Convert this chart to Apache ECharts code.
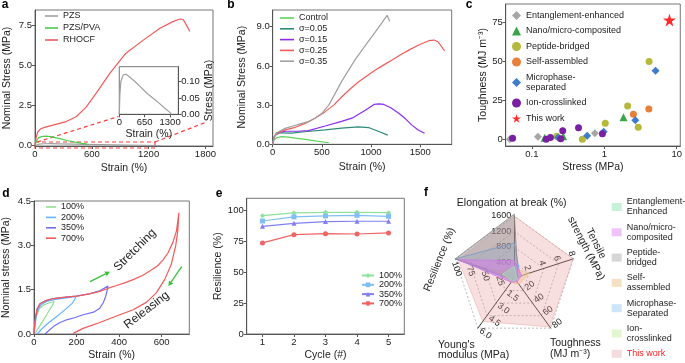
<!DOCTYPE html>
<html>
<head>
<meta charset="utf-8">
<script src="https://cdn.jsdelivr.net/npm/echarts@6/dist/echarts.min.js"></script>
<style>
html, body { margin: 0; padding: 0; background: #fff; }
#main { width: 685px; height: 363px; }
</style>
</head>
<body>
<div id="main"></div>
<script>
// multi-panel figure a-f
const FONT = "'Liberation Sans', Arial, sans-serif";
const AX = '#555';

// ---- a: tensile curves + inset
const aTicksX = [0, 600, 1200, 1800];
const aTicksY = [0, 2.5, 5, 7.5];
const aInsetTicksX = [0, 650, 1300];
const aInsetTicksY = [0, 0.05, 0.1];
const aPzs = [[0,0],[15,0.06],[40,0.1],[100,0.12],[170,0.122],[250,0.115],[400,0.1],[530,0.085],[700,0.065],[960,0.04],[1150,0.02],[1300,0.005],[1330,0]];
const aPva = [[0,0],[15,0.3],[40,0.5],[80,0.58],[120,0.6],[180,0.55],[260,0.44],[340,0.32],[420,0.22],[500,0.14],[550,0.1]];
const aRhocf = [[0,0],[10,0.45],[28,0.85],[60,1.05],[110,1.15],[190,1.28],[330,1.5],[435,1.8],[540,2.4],[645,3.25],[790,4.5],[960,5.75],[1140,6.55],[1320,7.3],[1450,7.7],[1530,7.88],[1565,7.85],[1600,7.5],[1635,7.1]];

// ---- b: different sigma
const bTicksX = [0, 500, 1000, 1500];
const bTicksY = [0, 3, 6, 9];
const bControl = [[0,0],[15,0.35],[40,0.5],[90,0.59],[160,0.55],[250,0.46],[330,0.38],[450,0.24],[570,0.12]];
const bS005 = [[0,0],[10,0.45],[24,0.7],[75,0.88],[190,0.85],[350,0.98],[534,1.1],[700,1.24],[870,1.33],[980,1.27],[1080,0.98],[1170,0.7]];
const bS015 = [[0,0],[10,0.5],[41,0.88],[126,1.0],[250,1.0],[364,1.05],[534,1.4],[700,1.75],[806,2.0],[942,2.6],[1030,3.05],[1080,3.1],[1130,3.05],[1200,2.8],[1282,2.37],[1350,1.95],[1418,1.45],[1480,1.1],[1544,0.84]];
const bS025 = [[0,0],[12,0.5],[41,0.84],[126,1.1],[230,1.3],[330,1.6],[430,2.0],[534,2.5],[620,3.0],[704,3.64],[790,4.25],[874,4.79],[960,5.25],[1044,5.68],[1130,6.08],[1214,6.45],[1300,6.85],[1384,7.21],[1490,7.62],[1588,7.93],[1640,7.98],[1680,7.85],[1715,7.5],[1748,7.14]];
const bS035 = [[0,0],[12,0.55],[41,0.89],[126,1.22],[250,1.5],[364,1.73],[430,2.0],[500,2.37],[570,3.0],[636,3.9],[700,4.8],[772,5.68],[840,6.5],[908,7.21],[980,7.95],[1044,8.6],[1110,9.3],[1163,9.87],[1180,9.94],[1190,9.4]];

// ---- c: Ashby-like scatter (stress MPa, toughness MJ m-3)
const cTicksX = [0.1, 1, 10];
const cTicksY = [0, 25, 50, 75];
const cEntangle = [[0.0495,0],[0.121,1.7],[0.74,3.8]];
const cNano = [[0.15,1.0],[0.27,2.0],[1.84,14.1]];
const cPeptide = [[0.22,2.0],[0.497,0],[1.03,10.3],[2.1,21.3],[2.94,7.7],[4.15,49.8]];
const cSelf = [[2.52,16.0],[4.12,19.4]];
const cMicro = [[0.23,1.1],[0.58,2.2],[0.98,4.8],[2.68,12.2],[5.1,44]];
const cIon = [[0.054,0.6],[0.157,0],[0.18,1.2],[0.25,0.4],[0.266,5.5],[0.44,7.4],[0.94,3.5]];
const cThis = [[7.94,76.5]];

// ---- d: cyclic loading
const dTicksX = [0, 200, 400, 600];
const dTicksY = [0, 1.5, 3, 4.5];
const d100 = [[0,0],[5,0.35],[12,0.62],[25,0.85],[45,0.98],[70,1.05],[95,1.1],[85,0.95],[70,0.78],[55,0.6],[40,0.42],[25,0.25],[12,0.1],[4,0]];
const d200 = [[0,0],[4,0.3],[10,0.6],[20,0.85],[35,1.0],[60,1.1],[100,1.17],[150,1.22],[197,1.27],[190,1.15],[177,1.02],[150,0.85],[122,0.68],[90,0.5],[59,0.32],[35,0.16],[15,0]];
const d350 = [[0,0],[3,0.3],[8,0.6],[15,0.85],[28,1.02],[52,1.12],[91,1.2],[150,1.25],[200,1.28],[260,1.36],[309,1.46],[348,1.62],[342,1.42],[337,1.27],[325,1.05],[309,0.875],[280,0.74],[231,0.65],[190,0.55],[153,0.48],[120,0.38],[91,0.25],[70,0.12],[52,0]];
const d700 = [[0,0],[3,0.3],[8,0.6],[15,0.85],[28,1.02],[52,1.12],[91,1.2],[150,1.25],[200,1.28],[260,1.36],[309,1.44],[350,1.55],[388,1.64],[430,1.74],[466,1.84],[510,1.98],[544,2.13],[580,2.3],[606,2.5],[630,2.75],[653,3.1],[670,3.5],[681,4.1],[676,3.5],[666,2.98],[645,2.35],[614,1.84],[575,1.39],[528,1.07],[466,0.82],[388,0.61],[309,0.39],[231,0.19],[184,0.02]];

// ---- e: resilience
const eCycles = [1, 2, 3, 4, 5];
const eTicksY = [0, 25, 50, 75, 100];
const e100 = [95.4, 97.6, 98.1, 98.1, 97.8];
const e200 = [91.1, 94.4, 95.2, 95.7, 94.9];
const e350 = [86.8, 89.2, 90.6, 90.9, 90.9];
const e700 = [73.4, 80.1, 80.9, 80.6, 81.5];

// ---- f: radar (elongation, resilience, young's, toughness, tensile)
const fMax = [1600, 100, 6, 80, 8];
const fEntangle = [300, 20, 0.3, 3, 0.3];
const fNano = [450, 95, 0.5, 6, 1.0];
const fPeptide = [1650, 100, 0.2, 2, 0.5];
const fSelf = [250, 30, 0.5, 10, 2];
const fMicro = [900, 100, 0.3, 3, 0.8];
const fIon = [150, 45, 0.4, 4, 0.5];
const fThis = [1600, 95, 5.2, 78, 8];

const pairs = (xs, ys) => xs.map((x, i) => [x, ys[i]]);
const strip = n => n.replace(/^[a-z]\|/, '');

function axisOf(gridIndex, min, max, ticks, fmt, name, nameGap, extra) {
	return Object.assign({
		type: 'value', gridIndex: gridIndex, min: min, max: max,
		name: name, nameLocation: 'middle', nameGap: nameGap,
		nameTextStyle: { fontSize: 10.5, fontFamily: FONT, color: '#222' },
		axisLine: { show: true, onZero: false, lineStyle: { color: AX, width: 1 } },
		axisTick: { show: true, customValues: ticks, length: 3, lineStyle: { color: AX } },
		axisLabel: { customValues: ticks, formatter: fmt, fontSize: 9.5, fontFamily: FONT, color: '#222', margin: 3 },
		splitLine: { show: false }
	}, extra || {});
}
const f1 = v => Number(v).toFixed(1);
const f2 = v => Number(v).toFixed(2);
const f0 = v => String(v);

function lineS(name, data, color, xi, width) {
	return { name: name, type: 'line', xAxisIndex: xi, yAxisIndex: xi, data: data, showSymbol: false, symbol: 'none',
		lineStyle: { color: color, width: width || 1.2 }, itemStyle: { color: color }, animation: false, silent: true };
}
function dotS(name, data, color, symbol, size) {
	return { name: name, type: 'scatter', xAxisIndex: 3, yAxisIndex: 3, data: data, symbol: symbol, symbolSize: size,
		itemStyle: { color: color, opacity: 1 }, animation: false };
}
function markS(name, ys, color, symbol) {
	return { name: name, type: 'line', xAxisIndex: 5, yAxisIndex: 5, data: pairs(eCycles, ys), symbol: symbol, symbolSize: 5,
		showSymbol: true, lineStyle: { color: color, width: 1.2 }, itemStyle: { color: color }, animation: false };
}
function arrow(x1, y1, x2, y2, color) {
	const a = Math.atan2(y2 - y1, x2 - x1), h = 5, w = 2.6;
	const bx = x2 - h * Math.cos(a), by = y2 - h * Math.sin(a);
	return [
		{ type: 'line', shape: { x1: x1, y1: y1, x2: bx, y2: by }, style: { stroke: color, lineWidth: 1.3 } },
		{ type: 'polygon', shape: { points: [[x2, y2], [bx - w * Math.sin(a), by + w * Math.cos(a)], [bx + w * Math.sin(a), by - w * Math.cos(a)]] }, style: { fill: color } }
	];
}
function txt(x, y, text, size, rot, extra) {
	return { type: 'text', x: x, y: y, rotation: rot || 0,
		style: Object.assign({ text: text, font: size + 'px ' + FONT, fill: '#222', align: 'center', verticalAlign: 'middle' }, extra || {}) };
}
const STAR = 'path://M50,0 L61,35 L98,35 L68,57 L79,91 L50,70 L21,91 L32,57 L2,35 L39,35 Z';
const legText = { fontSize: 9, fontFamily: FONT, color: '#222' };

const getOption = () => {
	const grids = [
		{ left: 35, top: 10, width: 178, height: 136 },
		{ left: 119.3, top: 66.7, width: 59, height: 47.6 },
		{ left: 272.7, top: 10, width: 179, height: 134.3 },
		{ left: 505.7, top: 4, width: 177, height: 142 },
		{ left: 33.3, top: 201, width: 156, height: 133 },
		{ left: 246.7, top: 198.3, width: 157.6, height: 135.7 }
	].map(g => Object.assign({ show: true, borderColor: '#777', borderWidth: 1, backgroundColor: 'transparent' }, g));

	const xAxis = [
		axisOf(0, 0, 1880, aTicksX, f0, 'Strain (%)', 17),
		axisOf(1, 0, 1510, aInsetTicksX, f0, 'Strain (%)', 10),
		axisOf(2, 0, 1820, bTicksX, f0, 'Strain (%)', 17),
		axisOf(3, 0.0434, 11.2, cTicksX, f0, 'Stress (MPa)', 15.5, { type: 'log', logBase: 10 }),
		axisOf(4, 0, 730, dTicksX, f0, 'Strain (%)', 16),
		axisOf(5, 0.5, 5.5, eCycles, f0, 'Cycle (#)', 16)
	];
	const yAxis = [
		axisOf(0, -0.02, 8.44, aTicksY, f1, 'Nominal Stress (MPa)', 22),
		axisOf(1, 0, 0.145, aInsetTicksY, f2, 'Stress (MPa)', 22, { position: 'right' }),
		axisOf(2, 0, 10.28, bTicksY, f1, 'Nominal Stress (MPa)', 25),
		axisOf(3, -4.3, 86.7, cTicksY, f0, 'Toughness (MJ m\u207B\u00B3)', 17),
		axisOf(4, 0, 4.5, dTicksY, f1, 'Nominal stress (MPa)', 22),
		axisOf(5, 0, 109.4, eTicksY, f0, 'Resilience (%)', 21)
	];

	const rColors = [
		['f|Entanglement-\nEnhanced', fEntangle, 'rgba(150,230,180,0.45)', '#c8f2d8', 'rgba(150,230,180,0.8)'],
		['f|Nano/micro-\ncomposited', fNano, 'rgba(215,120,235,0.5)', '#f0c4fa', 'rgba(200,120,230,0.8)'],
		['f|Peptide-\nbridged', fPeptide, 'rgba(140,140,140,0.45)', '#d6d6d6', 'rgba(140,140,140,0.8)'],
		['f|Self-\nassembled', fSelf, 'rgba(240,200,150,0.5)', '#f6e0c4', 'rgba(230,190,140,0.8)'],
		['f|Microphase-\nSeparated', fMicro, 'rgba(150,190,240,0.35)', '#cde4f9', '#7aa8ee'],
		['f|Ion-\ncrosslinked', fIon, 'rgba(190,240,150,0.6)', '#e2f7d0', 'rgba(170,225,130,0.9)'],
		['f|This work', fThis, 'rgba(232,150,150,0.3)', '#f3dcdc', 'rgba(232,150,150,0.4)']
	];
	const radarSeries = {
		type: 'radar', animation: false, symbol: 'none', silent: true,
		data: rColors.slice().reverse().map(r => ({
			name: r[0], value: r[1],
			areaStyle: { color: r[2], opacity: 1 },
			lineStyle: { color: r[4], width: 1 },
			itemStyle: { color: r[3] }
		}))
	};
	const lab = (rot, fmt) => ({ show: true, rotate: rot, fontSize: 9, fontFamily: FONT, color: '#222', margin: 3, showMinLabel: false, formatter: fmt });
	const radar = {
		center: [514.3, 278], radius: 62, startAngle: 90, shape: 'polygon', splitNumber: 4,
		axisName: { show: false },
		axisLine: { lineStyle: { color: '#333', width: 1 } },
		axisTick: { show: false },
		splitLine: { lineStyle: { color: '#aaa', type: [2, 2], width: 0.8 } },
		splitArea: { show: false },
		indicator: [
			{ name: 'Elongation', min: 0, max: fMax[0], axisLabel: lab(0, f0) },
			{ name: 'Resilience', min: 0, max: fMax[1], axisLabel: lab(-72, f0) },
			{ name: 'Young', min: 0, max: fMax[2], axisLabel: lab(-36, f1) },
			{ name: 'Toughness', min: 0, max: fMax[3], axisLabel: lab(36, f0) },
			{ name: 'Tensile', min: 0, max: fMax[4], axisLabel: lab(-72, f0) }
		]
	};

	const legends = [
		{ left: 45, top: 11, itemWidth: 13, itemHeight: 1.6, icon: 'rect', itemGap: 2, data: ['PZS', 'PZS/PVA', 'RHOCF'] },
		{ left: 280, top: 13, itemWidth: 14, itemHeight: 1.6, icon: 'rect', itemGap: 0.8, data: ['Control', '\u03C3=0.05', '\u03C3=0.15', '\u03C3=0.25', '\u03C3=0.35'] },
		{ left: 512, top: 10.5, itemWidth: 9, itemHeight: 9, itemGap: 5.5,
			data: ['Entanglement-enhanced', 'Nano/micro-composited', 'Peptide-bridged', 'Self-assembled', 'Microphase-\nseparated', 'Ion-crosslinked', 'This work'] },
		{ left: 46, top: 202, itemWidth: 10, itemHeight: 1.6, icon: 'rect', itemGap: 0.4, data: ['d|100%', 'd|200%', 'd|350%', 'd|700%'] },
		{ left: 361, top: 271, itemWidth: 12, itemHeight: 6, itemGap: 0.3, data: ['e|100%', 'e|200%', 'e|350%', 'e|700%'], lh: 9 },
		{ left: 611.7, top: 197, itemWidth: 10, itemHeight: 8, itemGap: 5.3, icon: 'rect',
			data: rColors.map(r => r[0] === 'f|This work' ? { name: r[0], textStyle: { color: '#ff2020' } } : r[0]) }
	].map(l => Object.assign({ orient: 'vertical', padding: 0, selectedMode: false, formatter: strip,
		textStyle: Object.assign({}, legText, { lineHeight: l.lh || 10 }) }, l));

	const graphics = [
		txt(5, 5, 'a', 12, 0, { font: 'bold 12px ' + FONT, fill: '#000' }),
		txt(231, 5, 'b', 12, 0, { font: 'bold 12px ' + FONT, fill: '#000' }),
		txt(469, 5, 'c', 12, 0, { font: 'bold 12px ' + FONT, fill: '#000' }),
		txt(6, 194, 'd', 12, 0, { font: 'bold 12px ' + FONT, fill: '#000' }),
		txt(219, 194, 'e', 12, 0, { font: 'bold 12px ' + FONT, fill: '#000' }),
		txt(426, 193, 'f', 12, 0, { font: 'bold 12px ' + FONT, fill: '#000' }),
		// zoom box in a
		{ type: 'rect', shape: { x: 35, y: 142, width: 120, height: 6 }, style: { fill: 'none', stroke: '#ff3b3b', lineWidth: 1.2, lineDash: [4, 3] } },
		{ type: 'line', shape: { x1: 37, y1: 142, x2: 118.5, y2: 116.5 }, style: { stroke: '#ff3b3b', lineWidth: 1.2, lineDash: [4, 3] } },
		{ type: 'line', shape: { x1: 155, y1: 142, x2: 207.3, y2: 121.7 }, style: { stroke: '#ff3b3b', lineWidth: 1.2, lineDash: [4, 3] } },
		// d annotations
		...arrow(90, 281.7, 110, 271.7, '#3cc03c'),
		...arrow(181.7, 266.7, 168.3, 286, '#3cc03c'),
		txt(135, 250, 'Stretching', 12, 0.785),
		txt(146.7, 310, 'Releasing', 12, 0.656),
		// radar names
		txt(511.7, 202.7, 'Elongation at break (%)', 10.5),
		txt(591, 246, 'Tensile\nstrength (MPa)', 10.5, -1.1, { lineHeight: 11 }),
		txt(550, 348.5, 'Toughness\n(MJ m\u207B\u00B3)', 10.5, 0, { align: 'left', lineHeight: 11 }),
		txt(438, 350, "Young's\nmodulus (MPa)", 10.5, 0, { align: 'left', lineHeight: 10.5 }),
		txt(439.5, 259.5, 'Resilience (%)', 10.5, 1.19)
	];

	return {
		backgroundColor: '#fff',
		textStyle: { fontFamily: FONT },
		grid: grids, xAxis: xAxis, yAxis: yAxis, radar: radar, legend: legends,
		series: [
			lineS('PZS', aPzs, '#a0a0a0', 0),
			lineS('PZS/PVA', aPva, '#4ccc4c', 0),
			lineS('RHOCF', aRhocf, '#f25a5a', 0),
			lineS('PZS inset', aPzs, '#a0a0a0', 1),
			lineS('Control', bControl, '#5fd35f', 2),
			lineS('\u03C3=0.05', bS005, '#2e8b78', 2),
			lineS('\u03C3=0.15', bS015, '#8b2cf0', 2),
			lineS('\u03C3=0.25', bS025, '#f25a5a', 2),
			lineS('\u03C3=0.35', bS035, '#a0a0a0', 2),
			dotS('Entanglement-enhanced', cEntangle, '#a6a6a6', 'diamond', 8),
			dotS('Nano/micro-composited', cNano, '#3aa54a', 'triangle', 8),
			dotS('Peptide-bridged', cPeptide, '#b5b83a', 'circle', 7),
			dotS('Self-assembled', cSelf, '#e8803a', 'circle', 7),
			dotS('Microphase-\nseparated', cMicro, '#3d7cc9', 'diamond', 8),
			dotS('Ion-crosslinked', cIon, '#7a1fa2', 'circle', 7),
			dotS('This work', cThis, '#ff2a2a', STAR, 13),
			lineS('d|100%', d100, '#90e090', 4),
			lineS('d|200%', d200, '#66b2ff', 4),
			lineS('d|350%', d350, '#7070f0', 4),
			lineS('d|700%', d700, '#f05a5a', 4),
			markS('e|100%', e100, '#8ee29a', 'diamond'),
			markS('e|200%', e200, '#80bff5', 'rect'),
			markS('e|350%', e350, '#8080f0', 'triangle'),
			markS('e|700%', e700, '#f06464', 'circle'),
			radarSeries
		],
		graphic: { elements: graphics }
	};
};

const chart = echarts.init(document.getElementById('main'), null, { renderer: 'canvas' });
chart.setOption(getOption());
</script>
</body>
</html>
